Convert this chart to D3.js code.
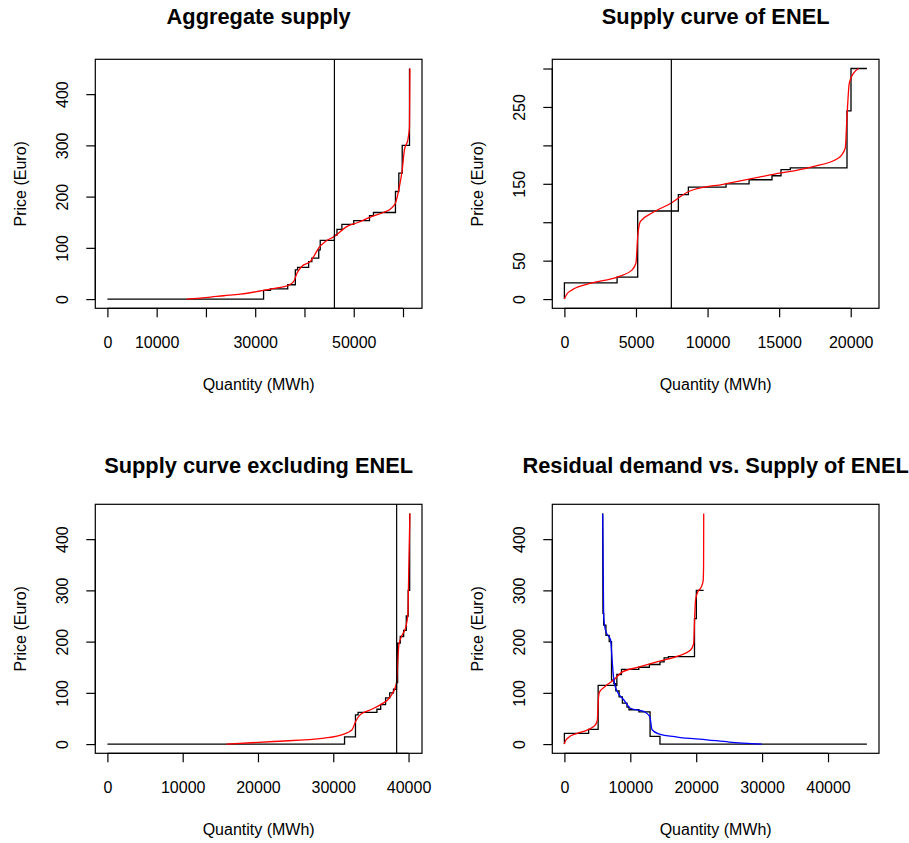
<!DOCTYPE html>
<html>
<head>
<meta charset="utf-8">
<script src="https://cdn.jsdelivr.net/npm/d3@7"></script>
<style>
  body { margin: 0; background: #fff; }
  svg text { font-family: "Liberation Sans", Arial, Helvetica, sans-serif; fill: #000; }
</style>
</head>
<body>
<div id="chart"></div>
<script>
var width = 909;
var height = 843;

// aggregate supply: step function and smoothed curve (quantity MWh, price Euro)
var aggStep = [[0,0],[31700,0],[31700,17],[33100,17],[33100,20],[36600,20],[36600,28],[38150,28],[38150,57],
  [38600,57],[38600,62],[40850,62],[40850,73],[41500,73],[41500,80],[42900,80],[42900,96],[43200,96],
  [43200,114.5],[46080,114.5],[46080,125],[46600,125],[46600,136],[47600,136],[47600,146],[50000,146],
  [50000,153],[53200,153],[53200,163],[54000,163],[54000,169],[58470,169],[58470,210],[59150,210],
  [59150,246],[59840,246],[59840,300],[61320,300],[61320,450]];
var aggSmooth = [[16100,0],[20000,3],[23600,6.5],[27000,9.7],[31700,16.9],[34500,22],[36500,26],[37800,34],
  [38500,51],[39500,64],[41200,73.5],[42000,85],[42900,100],[44250,112.5],[46080,122.3],[48660,142],
  [50700,149],[53400,160],[56000,169],[57460,176],[58470,187.5],[59150,213.5],[59840,252],[60300,292],
  [60980,311],[61320,337],[61400,450]];
var aggClear = 46080;

// supply curve of ENEL
var enelStep = [[0,0],[0,21],[3680,21],[3680,28.6],[5120,28.6],[5120,114.6],[7960,114.6],[7960,135.8],
  [8660,135.8],[8660,145.8],[11290,145.8],[11290,150],[12900,150],[12900,155.3],[14500,155.3],
  [14500,160.5],[15130,160.5],[15130,168.4],[15780,168.4],[15780,170.6],[19740,170.6],[19740,245],
  [20020,245],[20020,300],[21130,300]];
var enelSmooth = [[0,0],[150,6],[540,12],[1930,21],[3680,28.6],[4730,38],[5000,47],[5120,81.5],[5310,101],
  [6120,112],[7470,125],[8680,140],[11240,150],[14500,162],[17300,172],[19150,183.6],[19620,196.6],
  [19740,237.8],[19900,281],[20200,294],[20550,300]];
var enelClear = 7470;

// supply curve excluding ENEL
var exclStep = [[0,0],[31500,0],[31500,14],[32950,14],[32950,57],[33300,57],[33300,62],[35800,62],
  [35800,68],[36300,68],[36300,77],[36950,77],[36950,90],[37500,90],[37500,100],[38000,100],[38000,107],
  [38400,107],[38400,120],[38550,120],[38550,197],[38900,197],[38900,210],[39350,210],[39350,222],
  [39700,222],[39700,250],[39950,250],[39950,300],[40150,300],[40150,450]];
var exclSmooth = [[15800,0],[22100,5],[28800,11.7],[31400,19.5],[32500,28],[32970,44],[33630,58],
  [34960,67],[36290,77],[37610,93],[38410,119],[38600,170],[38720,194],[39160,213],[39600,227],
  [39910,253],[40050,357],[40180,450]];
var exclClear = 38420;

// residual demand faced by ENEL
var residStep = [[5810,450],[5850,255],[5960,255],[5960,232],[6300,232],[6300,212],[6800,212],[6800,200],
  [7150,200],[7150,125],[7500,125],[7500,118],[7800,118],[7800,104],[8300,104],[8300,92],[8800,92],
  [8800,80],[9500,80],[9500,72],[9800,72],[9800,67],[11300,67],[11300,63],[13000,63],[13000,15],
  [14500,15],[14500,0],[45900,0]];
var residSmooth = [[5810,450],[5880,350],[5960,249],[6220,223],[6720,210],[7000,204],[7240,165],
  [7390,139],[7590,119],[8000,103],[9000,86.5],[10020,70],[12030,63.7],[12950,54],[13300,28],
  [14310,20],[17100,13.7],[21650,8.4],[25000,4],[29950,0]];
var enelSmoothFull = [[0,0],[150,6],[540,12],[1930,21],[3680,28.6],[4730,38],[5000,47],[5120,81.5],
  [5310,101],[6120,112],[7470,125],[8680,140],[11240,150],[14500,162],[17300,172],[19150,183.6],
  [19620,196.6],[19740,237.8],[19900,281],[20200,296],[20700,305],[21050,318],[21120,350],[21140,450]];

// ticks and the labels R kept
var aggXTicks = [0,10000,20000,30000,40000,50000,60000];
var aggXLabels = [0,10000,30000,50000];
var priceTicks = [0,100,200,300,400];
var enelXTicks = [0,5000,10000,15000,20000];
var enelYTicks = [0,50,100,150,200,250,300];
var enelYLabels = [0,50,150,250];
var exclXTicks = [0,10000,20000,30000,40000];
var residXTicks = [0,10000,20000,30000,40000];

var svg = d3.select("#chart").append("svg")
  .attr("width", width)
  .attr("height", height);

var cols = [[95.3, 422], [552.3, 879]];
var rows = [[59.3, 308.3], [504.3, 753.3]];
var titleBase = [24, 473];

function drawPanel(o) {
  var left = cols[o.col][0], right = cols[o.col][1];
  var top = rows[o.row][0], bottom = rows[o.row][1];

  var all = [];
  o.lines.forEach(function(l) { all = all.concat(l.data); });
  var xExt = d3.extent(all, function(d) { return d[0]; });
  var yExt = d3.extent(all, function(d) { return d[1]; });
  var xPad = (xExt[1] - xExt[0]) * 0.04, yPad = (yExt[1] - yExt[0]) * 0.04;

  var x = d3.scaleLinear().domain([xExt[0] - xPad, xExt[1] + xPad]).range([left, right]);
  var y = d3.scaleLinear().domain([yExt[0] - yPad, yExt[1] + yPad]).range([bottom, top]);

  var g = svg.append("g");

  // title
  g.append("text")
    .attr("x", (left + right) / 2)
    .attr("y", titleBase[o.row])
    .attr("text-anchor", "middle")
    .style("font-size", "21.8px")
    .style("font-weight", "bold")
    .text(o.title);

  // lines
  o.lines.forEach(function(l) {
    var gen = d3.line()
      .x(function(d) { return x(d[0]); })
      .y(function(d) { return y(d[1]); })
      .curve(l.smooth ? d3.curveMonotoneX : d3.curveLinear);
    g.append("path")
      .datum(l.data)
      .attr("fill", "none")
      .attr("stroke", l.color)
      .attr("stroke-width", 1.3)
      .attr("d", gen);
  });

  if (o.vline != null) {
    g.append("line")
      .attr("x1", x(o.vline)).attr("x2", x(o.vline))
      .attr("y1", top).attr("y2", bottom)
      .attr("stroke", "#000")
      .attr("stroke-width", 1.2);
  }

  // box
  g.append("rect")
    .attr("x", left).attr("y", top)
    .attr("width", right - left).attr("height", bottom - top)
    .attr("fill", "none")
    .attr("stroke", "#000")
    .attr("stroke-width", 1.2);

  // x axis
  var xAxis = d3.axisBottom(x)
    .tickValues(o.xTicks)
    .tickSize(9)
    .tickPadding(19)
    .tickFormat(function(d) { return o.xLabels.indexOf(d) >= 0 ? d : ""; });
  var xg = g.append("g")
    .attr("transform", "translate(0," + bottom + ")")
    .call(xAxis);
  xg.select(".domain").attr("d", "M" + x(o.xTicks[0]) + ",0H" + x(o.xTicks[o.xTicks.length - 1]));
  xg.selectAll("text").style("font-size", "16px").attr("fill", "#000");

  // y axis, labels turned like R does
  var yAxis = d3.axisLeft(y)
    .tickValues(o.yTicks)
    .tickSize(9)
    .tickFormat(function(d) { return o.yLabels.indexOf(d) >= 0 ? d : ""; });
  var yg = g.append("g")
    .attr("transform", "translate(" + left + ",0)")
    .call(yAxis);
  yg.select(".domain").attr("d", "M0," + y(o.yTicks[0]) + "V" + y(o.yTicks[o.yTicks.length - 1]));
  yg.selectAll(".tick text")
    .attr("x", null).attr("dy", null)
    .attr("transform", "translate(-27,0) rotate(-90)")
    .attr("text-anchor", "middle")
    .style("font-size", "16px");

  g.selectAll(".tick line, .domain").attr("stroke", "#000").attr("stroke-width", 1.2);

  // axis titles
  g.append("text")
    .attr("x", (left + right) / 2)
    .attr("y", bottom + 82)
    .attr("text-anchor", "middle")
    .style("font-size", "16px")
    .text("Quantity (MWh)");

  g.append("text")
    .attr("transform", "translate(" + (left - 69) + "," + ((top + bottom) / 2) + ") rotate(-90)")
    .attr("text-anchor", "middle")
    .style("font-size", "16px")
    .text("Price (Euro)");
}

drawPanel({
  row: 0, col: 0, title: "Aggregate supply",
  lines: [{data: aggStep, color: "#000"}, {data: aggSmooth, color: "#ff0000", smooth: true}],
  vline: aggClear,
  xTicks: aggXTicks, xLabels: aggXLabels, yTicks: priceTicks, yLabels: priceTicks
});

drawPanel({
  row: 0, col: 1, title: "Supply curve of ENEL",
  lines: [{data: enelStep, color: "#000"}, {data: enelSmooth, color: "#ff0000", smooth: true}],
  vline: enelClear,
  xTicks: enelXTicks, xLabels: enelXTicks, yTicks: enelYTicks, yLabels: enelYLabels
});

drawPanel({
  row: 1, col: 0, title: "Supply curve excluding ENEL",
  lines: [{data: exclStep, color: "#000"}, {data: exclSmooth, color: "#ff0000", smooth: true}],
  vline: exclClear,
  xTicks: exclXTicks, xLabels: exclXTicks, yTicks: priceTicks, yLabels: priceTicks
});

drawPanel({
  row: 1, col: 1, title: "Residual demand vs. Supply of ENEL",
  lines: [{data: enelStep, color: "#000"}, {data: residStep, color: "#000"},
          {data: enelSmoothFull, color: "#ff0000", smooth: true},
          {data: residSmooth.slice().reverse(), color: "#0000ff", smooth: true}],
  vline: null,
  xTicks: residXTicks, xLabels: residXTicks, yTicks: priceTicks, yLabels: priceTicks
});
</script>
</body>
</html>
